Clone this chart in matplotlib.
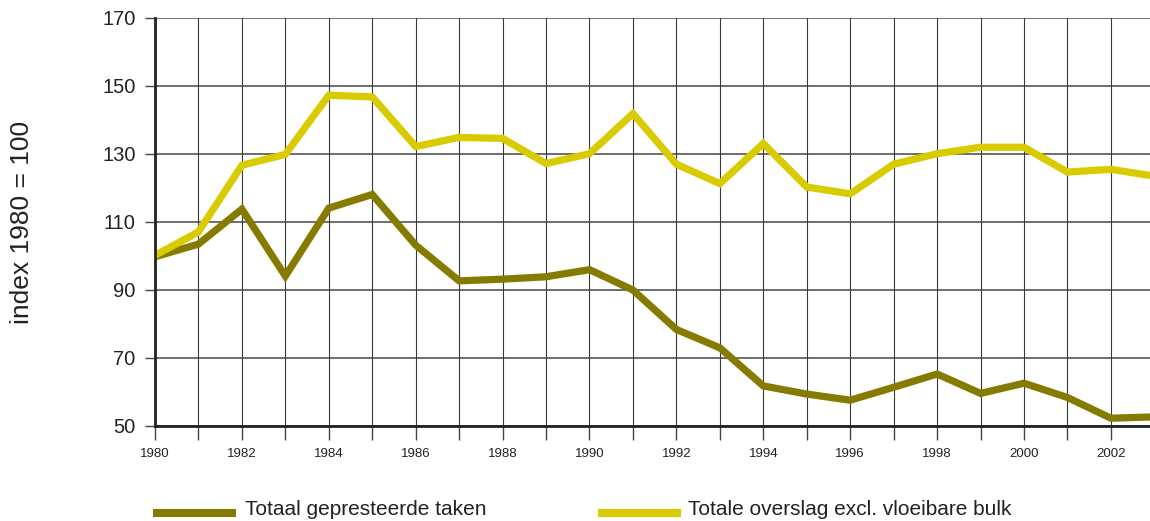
import matplotlib
matplotlib.use("Agg")
import matplotlib.pyplot as plt
from matplotlib.lines import Line2D

years = list(range(1980, 2004))
gepresteerd = [99.7, 103.4, 113.7, 94.0, 114.0, 118.0, 103.1, 92.6, 93.1, 93.8, 95.9, 89.9,
               78.3, 72.9, 61.7, 59.3, 57.5, 61.3, 65.2, 59.5, 62.5, 58.3, 52.2, 52.6]
overslag = [100.1, 107.0, 126.6, 129.8, 147.2, 146.7, 132.1, 134.8, 134.5, 127.1, 130.0, 141.8,
            126.9, 121.2, 133.0, 120.2, 118.2, 126.9, 130.0, 131.9, 131.9, 124.6, 125.4, 123.4]
yticks = [50, 70, 90, 110, 130, 150, 170]
xtick_labels = list(range(1980, 2003, 2))
labels = ["Totaal gepresteerde taken", "Totale overslag excl. vloeibare bulk"]

c_olive = "#857B00"
c_yellow = "#D8CB00"

plt.rcParams['font.family'] = ['Liberation Sans', 'DejaVu Sans']

fig = plt.figure(figsize=(11.5, 5.21), dpi=100)
ax = fig.add_axes([155/1150, 1 - 425.7/521, 1 - 155/1150, (425.7 - 17.7)/521])

ax.plot(years, gepresteerd, color=c_olive, lw=5.2, solid_joinstyle='miter', zorder=3, clip_on=True)
ax.plot(years, overslag, color=c_yellow, lw=5.2, solid_joinstyle='miter', zorder=4, clip_on=True)

ax.set_xlim(1980, 2002.9)
ax.set_ylim(50, 170)
ax.set_yticks(yticks)
ax.set_yticklabels([str(v) for v in yticks], fontsize=14.5, color='#222222')
ax.set_xticks(years[:-1])
ax.set_xticklabels([str(y) if y in xtick_labels else '' for y in years[:-1]], fontsize=9.5, color='#222222')

ax.tick_params(axis='y', length=7, width=1.0, color='#444444', pad=7)
ax.tick_params(axis='x', length=10, width=1.0, color='#444444', pad=6)

for y in yticks:
    ax.axhline(y, color='#555555', lw=1.2, zorder=1)
for x in years:
    ax.axvline(x, color='#3a3a3a', lw=0.8, zorder=1)

for s in ['top', 'right']:
    ax.spines[s].set_visible(False)
ax.spines['left'].set_linewidth(2.0)
ax.spines['bottom'].set_linewidth(2.0)
ax.spines['left'].set_color('#222222')
ax.spines['bottom'].set_color('#222222')
ax.spines['left'].set_zorder(5)
ax.spines['bottom'].set_zorder(5)

fig.text(22/1150, 1 - 222/521, "index 1980 = 100", rotation=90, fontsize=19,
         ha='center', va='center', color='#222222')

# legend
for (x0, x1, tx, col, lab) in [(153, 236, 245, c_olive, labels[0]),
                               (598, 681, 688, c_yellow, labels[1])]:
    fig.add_artist(Line2D([x0/1150, x1/1150], [1 - 513/521, 1 - 513/521], color=col, lw=5.8,
                          solid_capstyle='butt', transform=fig.transFigure))
    fig.text(tx/1150, 1 - 515/521, lab, fontsize=15, ha='left', va='baseline', color='#222222')

fig.savefig("out.png", dpi=100)
